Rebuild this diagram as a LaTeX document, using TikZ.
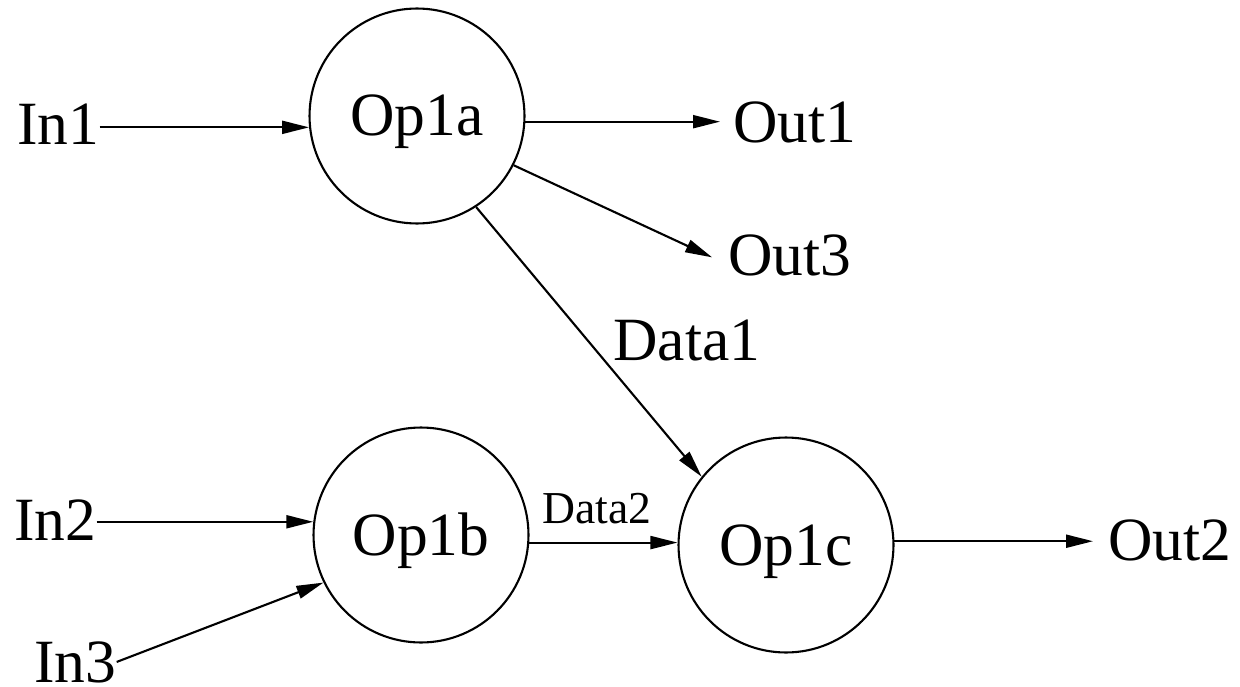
\documentclass[tikz,border=0pt]{standalone}
\usepackage{fontspec}
\setmainfont{Liberation Serif}
\usetikzlibrary{arrows.meta}
\begin{document}
\begin{tikzpicture}[x=0.02cm,y=-0.02cm,
  op/.style={circle,draw,line width=1.2pt,minimum size=4.3cm,inner sep=0pt,
    font=\fontsize{35}{40}\selectfont,text height=0.84cm,text depth=0.04cm},
  lbl/.style={inner sep=0pt,anchor=base west,font=\fontsize{35}{40}\selectfont},
  small/.style={inner sep=0pt,anchor=base west,font=\fontsize{26}{30}\selectfont},
  arr/.style={line width=1.2pt,-{Triangle[length=0.54cm,width=0.26cm]}}]
  \useasboundingbox (0,0) rectangle (1240,686);

  % operators
  \node[op] (Op1a) at (417,116) {Op1a};
  \node[op] (Op1b) at (421,535) {Op1b};
  \node[op] (Op1c) at (786,545) {Op1c};

  % inputs, outputs and data labels
  \node[lbl] (In1) at (17,144) {In1};
  \node[lbl] (In2) at (14,540) {In2};
  \node[lbl] (In3) at (34,682) {In3};
  \node[lbl] (Out1) at (733,142) {Out1};
  \node[lbl] (Out3) at (728,275) {Out3};
  \node[lbl] (Out2) at (1108,560) {Out2};
  \node[lbl] (Data1) at (613,360) {Data1};
  \node[small] (Data2) at (542,523) {Data2};

  % flows
  \draw[arr] (In1.east |- Op1a.186) -- (Op1a.186);
  \draw[arr,shorten >=0.26cm] (Op1a.-3) -- (Out1.west |- Op1a.-3);
  \draw[arr,shorten >=0.35cm] (Op1a.-27.5) -- (Out3.189);
  \draw[arr] (Op1a.-57.3) -- (Op1c.141);
  \draw[arr] (In2.east |- Op1b.173.6) -- (Op1b.173.6);
  \draw[arr] (In3.east) -- (Op1b.206);
  \draw[arr] (Op1b.-4.8) -- (Op1c.west |- Op1b.-4.8);
  \draw[arr,shorten >=0.3cm] (Op1c.2) -- (Out2.west |- Op1c.2);
\end{tikzpicture}
\end{document}
